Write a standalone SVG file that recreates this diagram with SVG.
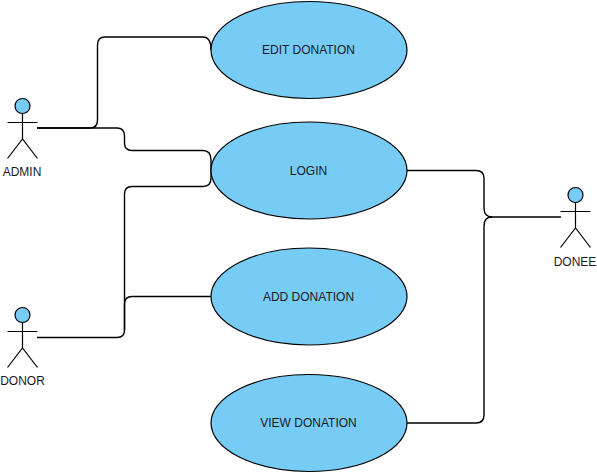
<svg xmlns="http://www.w3.org/2000/svg" width="597" height="473" viewBox="0 0 597 473">
<style>
.bg{fill:#fff}
.uc{fill:#76ccf5;stroke:#000;stroke-width:1.2}
.head{fill:#76ccf5;stroke:#000;stroke-width:1.2}
.fig{fill:none;stroke:#000;stroke-width:1.2}
.conn{fill:none;stroke:#000;stroke-width:1.4}
text{font-family:"Liberation Sans",Arial,sans-serif;font-size:12px;fill:#1a1a1a;text-anchor:middle}
</style>
<rect class="bg" width="597" height="473"/>
<g id="connectors">
<path class="conn" d="M37 128H90Q97.500 128 97.500 120V45Q97.500 37 105 37H203Q211 37 211 50"/>
<path class="conn" d="M37 128H117Q124.500 128 124.500 136V143Q124.500 150.500 132 150.500H203Q211 150.500 211 160V170"/>
<path class="conn" d="M37 337.500H117Q124.500 337.500 124.500 330V194Q124.500 186.500 132 186.500H203Q211 186.500 211 178V170"/>
<path class="conn" d="M124.500 330V304Q124.500 296.500 132 296.500H211"/>
<path class="conn" d="M407 170.500H476Q484 170.500 484 178V208Q484 217 492 217H561"/>
<path class="conn" d="M407 423H476Q484 423 484 415V226Q484 217 492 217"/>
</g>
<g id="edit-donation"><ellipse class="uc" cx="309" cy="50" rx="98" ry="48.500"/><text x="308.500" y="54">EDIT DONATION</text></g>
<g id="login"><ellipse class="uc" cx="309" cy="170.500" rx="98" ry="48.500"/><text x="308.500" y="174.500">LOGIN</text></g>
<g id="add-donation"><ellipse class="uc" cx="309" cy="296.500" rx="98" ry="48.500"/><text x="308.500" y="300.500">ADD DONATION</text></g>
<g id="view-donation"><ellipse class="uc" cx="309" cy="423" rx="98" ry="48.500"/><text x="308.500" y="427">VIEW DONATION</text></g>
<g id="admin">
<circle class="head" cx="22.500" cy="106" r="7.500"/>
<path class="fig" d="M22.500 113.500V139M7.500 122.500H37.500M7.500 158.500L22.500 139L37.500 158.500"/>
<text x="22" y="175.500">ADMIN</text>
</g>
<g id="donor">
<circle class="head" cx="22.500" cy="315" r="7.500"/>
<path class="fig" d="M22.500 322.500V348M7.500 331.500H37.500M7.500 367.500L22.500 348L37.500 367.500"/>
<text x="22.500" y="385">DONOR</text>
</g>
<g id="donee">
<circle class="head" cx="575.500" cy="195" r="7.500"/>
<path class="fig" d="M575.500 202.500V228M560.500 211.500H590.500M560.500 247.500L575.500 228L590.500 247.500"/>
<text x="575" y="265.500">DONEE</text>
</g>
</svg>
